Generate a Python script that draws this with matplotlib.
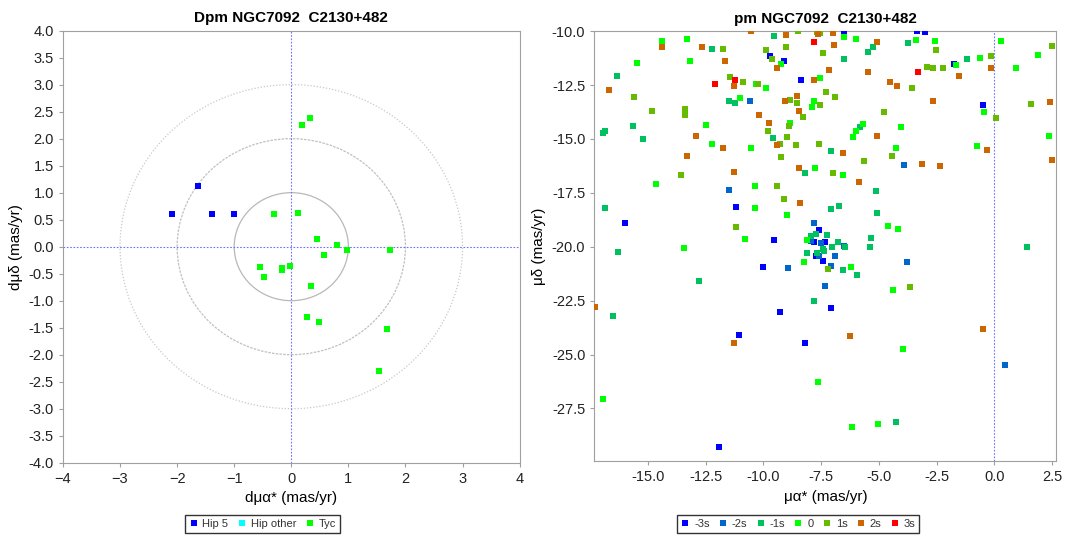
import numpy as np
import matplotlib
matplotlib.use("Agg")
import matplotlib.pyplot as plt
from matplotlib.lines import Line2D
from matplotlib.patches import Circle

plt.rcParams['font.family'] = ['Liberation Sans', 'DejaVu Sans']

# ---- left panel: proper motion differences (mas/yr)
hip5_x = [-2.09, -1.64, -1.39, -1.01]
hip5_y = [0.61, 1.12, 0.61, 0.61]
hipother_x = []
hipother_y = []
tyc_x = [0.18, 0.32, -0.31, 0.11, 0.45, 0.80, 0.97, 1.73, 0.57, -0.54, -0.47,
         -0.16, -0.17, -0.02, 0.34, 0.28, 0.49, 1.67, 1.54]
tyc_y = [2.26, 2.38, 0.61, 0.63, 0.14, 0.03, -0.07, -0.06, -0.15, -0.38, -0.57,
         -0.40, -0.43, -0.35, -0.73, -1.31, -1.40, -1.52, -2.31]

# ---- right panel: proper motions by sigma class (pmRA*, pmDE)
m3s = [(-9.71, -11.16), (-9.09, -11.36), (-8.36, -12.26), (-6.53, -10.0), (-3.34, -10.0),
       (-2.99, -10.06), (-1.76, -11.52), (-0.50, -13.42), (-11.17, -18.14), (-15.99, -18.88),
       (-7.60, -19.20), (-9.55, -19.70), (-10.02, -20.94), (-7.80, -19.79), (-7.34, -19.78),
       (-7.74, -20.44), (-7.44, -20.65), (-7.06, -22.86), (-9.29, -23.03), (-11.08, -24.10),
       (-8.21, -24.45), (-11.93, -29.31)]
m2s = [(-11.51, -17.36), (-10.59, -13.22), (-7.83, -18.91), (-8.94, -20.99), (-7.95, -19.73),
       (-7.52, -19.83), (-6.49, -19.95), (-7.60, -20.41), (-6.90, -20.44), (-7.06, -20.89),
       (-3.76, -20.69), (-7.33, -21.84), (-3.91, -16.20), (0.45, -25.50)]
m1s = [(-12.24, -10.83), (-16.34, -12.10), (-11.51, -13.25), (-11.24, -13.33), (-15.65, -14.39),
       (-16.85, -14.64), (-16.96, -14.73), (-15.23, -14.98), (-16.87, -18.22), (-9.55, -10.20),
       (-5.26, -10.71), (-5.49, -10.96), (-6.49, -11.28), (-9.59, -14.94), (-5.82, -14.44),
       (-7.09, -15.55), (-8.18, -16.57), (-5.14, -17.40), (-7.06, -18.26), (-6.72, -18.09),
       (-5.07, -18.42), (-5.33, -19.61), (-7.95, -19.48), (-7.72, -19.41), (-7.25, -19.45),
       (-6.79, -19.78), (-6.47, -20.01), (-7.02, -20.03), (-7.41, -20.09), (-7.37, -20.20),
       (-8.13, -20.28), (-7.66, -20.29), (-6.56, -21.10), (-5.95, -21.30), (-5.37, -19.99),
       (-7.79, -22.53), (-3.73, -10.53), (-1.20, -11.27), (1.42, -20.00), (-4.26, -28.12),
       (-16.31, -20.24), (-12.81, -21.59), (-16.54, -23.20)]
zero = [(-14.39, -10.46), (-13.32, -10.37), (-15.50, -11.48), (-13.20, -11.39), (-12.47, -14.36),
        (-12.24, -15.21), (-14.65, -17.07), (-11.01, -13.12), (-6.51, -10.29), (-5.98, -10.34),
        (-9.25, -11.52), (-7.56, -12.18), (-10.33, -12.43), (-9.87, -12.63), (-7.83, -13.22),
        (-7.90, -13.50), (-8.83, -14.24), (-10.55, -15.43), (-5.68, -14.32), (-5.98, -14.61),
        (-6.14, -14.89), (-7.76, -16.34), (-6.56, -16.65), (-10.36, -17.20), (-10.36, -18.22),
        (-8.97, -18.51), (-4.62, -19.05), (-10.82, -19.66), (-4.15, -19.17), (-8.13, -19.70),
        (-8.25, -20.72), (-6.21, -20.94), (-4.38, -22.00), (-3.38, -10.42), (-2.57, -10.46),
        (0.28, -10.46), (-0.62, -11.24), (1.88, -11.11), (-1.65, -11.58), (0.95, -11.72),
        (-0.46, -13.74), (-4.06, -14.44), (-4.26, -15.43), (-0.76, -15.34), (2.37, -14.86),
        (-7.64, -26.28), (-6.18, -28.37), (-5.03, -28.21), (-3.96, -24.72), (-13.44, -20.07),
        (-16.96, -27.05)]
p1s = [(-11.77, -10.83), (-11.43, -12.13), (-15.62, -13.03), (-13.39, -13.62), (-14.85, -13.71),
       (-13.42, -13.90), (-13.58, -16.67), (-11.21, -19.08), (-8.51, -10.0), (-7.69, -10.02),
       (-7.56, -10.09), (-9.90, -10.87), (-9.01, -10.74), (-7.41, -10.99), (-9.63, -11.30),
       (-10.89, -12.35), (-10.22, -12.47), (-7.30, -12.80), (-6.88, -13.05), (-8.87, -13.17),
       (-8.55, -13.34), (-7.56, -13.42), (-8.29, -13.99), (-8.90, -14.39), (-4.79, -13.74),
       (-9.82, -14.64), (-8.97, -14.89), (-9.29, -15.21), (-8.60, -15.26), (-7.60, -15.21),
       (-9.22, -15.83), (-5.65, -16.00), (-6.99, -16.57), (-9.40, -17.20), (-9.13, -17.80),
       (-7.21, -21.02), (-3.64, -21.87), (-2.53, -10.87), (-0.16, -11.16), (-2.92, -11.64),
       (-2.64, -11.69), (-2.22, -11.73), (-3.57, -12.63), (1.58, -13.37), (0.06, -14.04),
       (-4.42, -15.80), (2.52, -10.70)]
p2s = [(-14.39, -10.74), (-12.66, -10.74), (-11.67, -11.36), (-11.28, -12.55), (-16.69, -12.72),
       (-12.93, -14.86), (-11.77, -15.43), (-13.32, -15.80), (-11.28, -16.53), (-10.55, -10.0),
       (-9.04, -10.17), (-7.64, -10.12), (-7.00, -10.09), (-5.07, -10.49), (-6.95, -10.66),
       (-9.43, -11.69), (-7.18, -11.81), (-5.46, -11.90), (-4.52, -12.35), (-7.81, -12.27),
       (-8.55, -13.00), (-9.06, -13.22), (-8.45, -13.71), (-10.21, -13.87), (-9.78, -14.24),
       (-9.43, -15.26), (-5.10, -14.84), (-6.56, -15.63), (-8.44, -16.33), (-5.88, -16.98),
       (-8.41, -17.98), (-6.26, -24.13), (-1.54, -12.10), (-0.16, -11.72), (-4.22, -12.55),
       (-2.64, -13.25), (-0.32, -15.51), (-3.15, -16.17), (-2.34, -16.25), (2.42, -13.30),
       (2.52, -15.96), (-17.29, -22.78), (-11.28, -24.47), (-0.50, -23.80)]
p3s = [(-11.24, -12.26), (-12.12, -12.47), (-7.81, -10.49), (-3.31, -11.89)]

sigma_labels = ['-3s', '-2s', '-1s', '0', '1s', '2s', '3s']
sigma_colors = ['#0000ff', '#0066cc', '#00c060', '#00ff00', '#66bb00', '#cc6600', '#ff0000']

fig = plt.figure(figsize=(10.67, 5.38), dpi=100)
spine_col = '#a0a0a0'


def style_axes(ax):
    for sp in ax.spines.values():
        sp.set_color(spine_col)
    ax.tick_params(direction='out', length=3, color=spine_col, labelsize=10.5,
                   labelcolor='#222222')


# ---- left panel
ax1 = fig.add_axes([0.059, 0.140, 0.428, 0.803])
for r, ls, col in [(1, '-', '#b8b8b8'), (2, (0, (2, 1)), '#c0c0c0'), (3, (0, (1, 1.5)), '#c8c8c8')]:
    ax1.add_patch(Circle((0, 0), r, fill=False, ec=col, lw=0.9, ls=ls))
ax1.axhline(0, color='#7070ff', lw=0.8, ls=(0, (1.5, 1.5)))
ax1.axvline(0, color='#7070ff', lw=0.8, ls=(0, (1.5, 1.5)))
ax1.scatter(hip5_x, hip5_y, marker='s', s=22, c='#0000ff', lw=0, zorder=3)
ax1.scatter(hipother_x, hipother_y, marker='s', s=22, c='#00ffff', lw=0, zorder=3)
ax1.scatter(tyc_x, tyc_y, marker='s', s=22, c='#00ff00', lw=0, zorder=3)
ax1.set_xlim(-4, 4)
ax1.set_ylim(-4, 4)
ax1.set_xticks(np.arange(-4, 5, 1))
ax1.set_yticks(np.arange(-4, 4.01, 0.5))
ax1.set_yticklabels([f'{v:.1f}' for v in np.arange(-4, 4.01, 0.5)])
style_axes(ax1)
ax1.set_title('Dpm NGC7092  C2130+482', fontsize=11, fontweight='bold', pad=6)
ax1.set_xlabel('dμα* (mas/yr)', fontsize=11)
ax1.set_ylabel('dμδ (mas/yr)', fontsize=11)

h1 = [Line2D([], [], marker='s', ls='', ms=4, mew=0, color=c)
      for c in ['#0000ff', '#00ffff', '#00ff00']]
leg1 = fig.legend(h1, ['Hip 5', 'Hip other', 'Tyc'], loc='center', ncol=3,
                  bbox_to_anchor=(0.246, 0.026), fontsize=8, frameon=True, fancybox=False,
                  handlelength=0.8, handletextpad=0.4, columnspacing=0.8,
                  borderpad=0.35, labelcolor='#333333')
leg1.get_frame().set_edgecolor('black')
leg1.get_frame().set_linewidth(1.0)

# ---- right panel
ax2 = fig.add_axes([0.557, 0.143, 0.433, 0.799])
ax2.axvline(0, color='#7070ff', lw=0.8, ls=(0, (1.5, 1.5)))
for pts, col in zip([m3s, m2s, m1s, zero, p1s, p2s, p3s], sigma_colors):
    xs, ys = zip(*pts)
    ax2.scatter(xs, ys, marker='s', s=22, c=col, lw=0, zorder=3)
ax2.set_xlim(-17.33, 2.69)
ax2.set_ylim(-29.94, -10.0)
ax2.set_xticks(np.arange(-15, 2.6, 2.5))
ax2.set_xticklabels([f'{v:.1f}' for v in np.arange(-15, 2.6, 2.5)])
ax2.set_yticks(np.arange(-27.5, -9.9, 2.5))
ax2.set_yticklabels([f'{v:.1f}' for v in np.arange(-27.5, -9.9, 2.5)])
style_axes(ax2)
ax2.set_title('pm NGC7092  C2130+482', fontsize=11, fontweight='bold', pad=6)
ax2.set_xlabel('μα* (mas/yr)', fontsize=11)
ax2.set_ylabel('μδ (mas/yr)', fontsize=11)

h2 = [Line2D([], [], marker='s', ls='', ms=4, mew=0, color=c) for c in sigma_colors]
leg2 = fig.legend(h2, sigma_labels, loc='center', ncol=7,
                  bbox_to_anchor=(0.748, 0.026), fontsize=8, frameon=True, fancybox=False,
                  handlelength=0.8, handletextpad=0.4, columnspacing=0.8,
                  borderpad=0.35, labelcolor='#333333')
leg2.get_frame().set_edgecolor('black')
leg2.get_frame().set_linewidth(1.0)

fig.savefig('out.png', dpi=100)
